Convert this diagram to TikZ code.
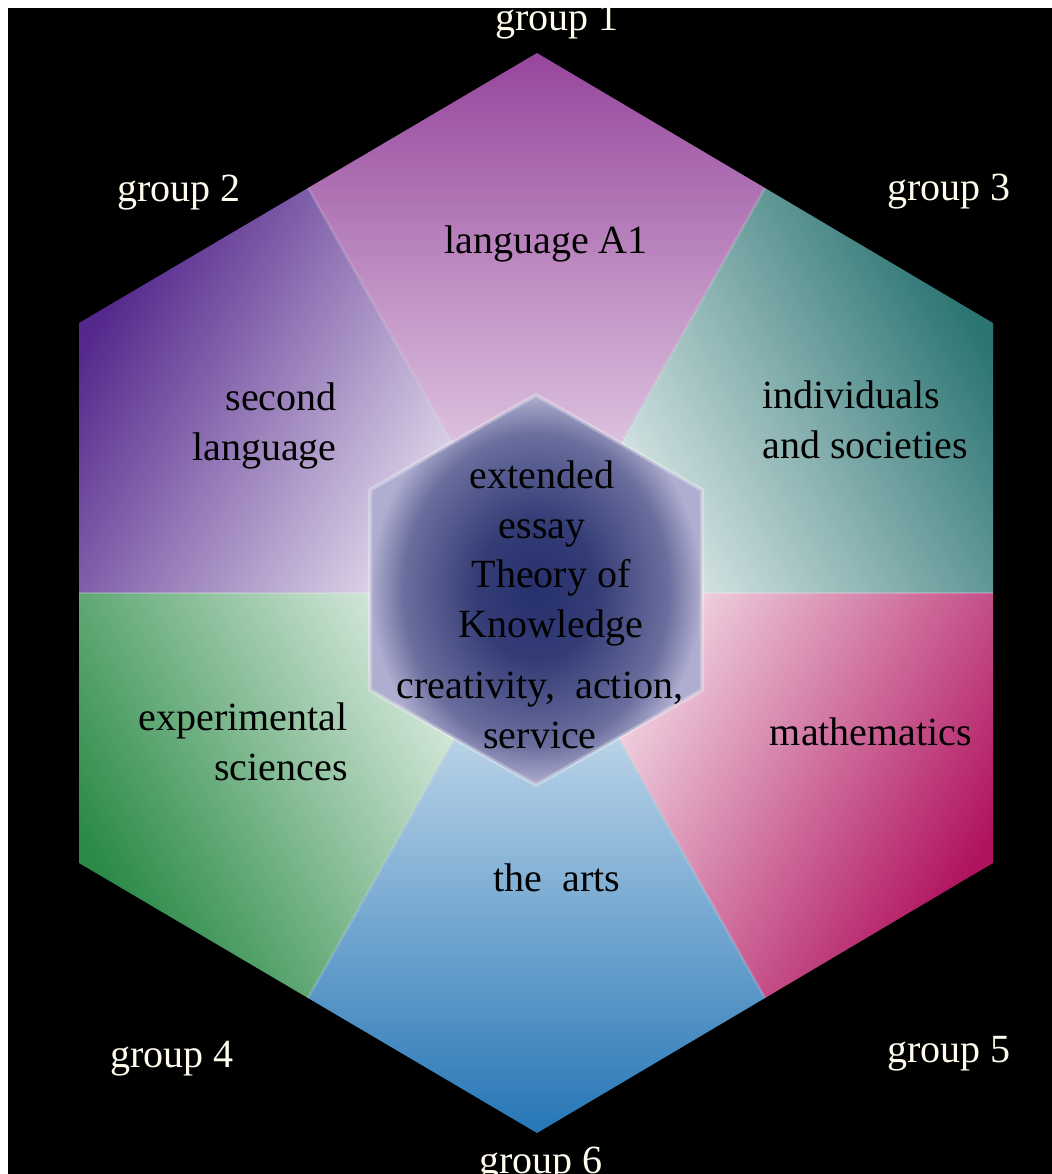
\documentclass[tikz,border=0pt]{standalone}
\usepackage{fontspec}
\setmainfont{Liberation Serif}
\usepackage{xcolor}
\usetikzlibrary{calc}
\definecolor{grpone}{RGB}{150,70,156}
\definecolor{grptwo}{RGB}{84,40,140}
\definecolor{grpthree}{RGB}{42,116,114}
\definecolor{grpfour}{RGB}{42,138,70}
\definecolor{grpfive}{RGB}{176,18,94}
\definecolor{grpsix}{RGB}{38,118,182}
\definecolor{corenavy}{RGB}{38,48,108}
\definecolor{corerim}{RGB}{176,174,208}
\definecolor{labelwhite}{RGB}{255,252,238}
\pgfdeclareradialshading{core}{\pgfpoint{0bp}{0bp}}{%
    color(0bp)=(corenavy); color(9bp)=(corenavy!90!corerim);
    color(20bp)=(corenavy!50!corerim); color(25bp)=(corerim); color(50bp)=(corerim)}

\begin{document}
\begin{tikzpicture}[x=0.5pt, y=-0.5pt,
    grouplabel/.style={text=labelwhite, font=\fontsize{20}{25}\selectfont, anchor=base, inner sep=0pt},
    subject/.style={text=black, font=\fontsize{20}{25}\selectfont, anchor=base, inner sep=0pt},
    sector/.style={top color=#1, middle color=#1!45!white, bottom color=white!92!#1}]
    \useasboundingbox (0,0) rectangle (1052,1174);
    % background with the thin white margin
    \fill[white] (0,0) rectangle (1052,1174);
    \fill[black] (8,8) rectangle (1052,1174);
    % outer hexagon: corners, edge midpoints, centre
    \coordinate (c) at (537,593);
    \coordinate (v1) at (537,53);
    \coordinate (v2) at (79,323);
    \coordinate (v3) at (993,323);
    \coordinate (v4) at (79,863);
    \coordinate (v5) at (993,863);
    \coordinate (v6) at (537,1133);
    \coordinate (m12) at ($(v1)!0.5!(v2)$);
    \coordinate (m13) at ($(v1)!0.5!(v3)$);
    \coordinate (m24) at ($(v2)!0.5!(v4)$);
    \coordinate (m35) at ($(v3)!0.5!(v5)$);
    \coordinate (m46) at ($(v4)!0.5!(v6)$);
    \coordinate (m56) at ($(v5)!0.5!(v6)$);
    % six sectors, dark at the corner and pale towards the centre
    \shade[sector=grpone, shading angle=0] (v1) -- (m13) -- (c) -- (m12) -- cycle;
    \shade[sector=grptwo, shading angle=60] (v2) -- (m12) -- (c) -- (m24) -- cycle;
    \shade[sector=grpthree, shading angle=-60] (v3) -- (m35) -- (c) -- (m13) -- cycle;
    \shade[sector=grpfour, shading angle=120] (v4) -- (m24) -- (c) -- (m46) -- cycle;
    \shade[sector=grpfive, shading angle=-120] (v5) -- (m56) -- (c) -- (m35) -- cycle;
    \shade[sector=grpsix, shading angle=180] (v6) -- (m46) -- (c) -- (m56) -- cycle;
    \foreach \m in {m12,m13,m24,m35,m46,m56}
        \draw[white, opacity=0.2, line width=1.2pt] (c) -- (\m);
    % inner hexagon
    \coordinate (k1) at (536,395);
    \coordinate (k2) at (702,490);
    \coordinate (k3) at (702,690);
    \coordinate (k4) at (536,785);
    \coordinate (k5) at (370,690);
    \coordinate (k6) at (370,490);
    \shade[shading=core] (k1) -- (k2) -- (k3) -- (k4) -- (k5) -- (k6) -- cycle;
    \draw[white, opacity=0.3, line width=2pt, line join=round] (k1) -- (k2) -- (k3) -- (k4) -- (k5) -- (k6) -- cycle;
    % group labels round the outside
    \node[grouplabel] (g1) at (557,30) {group 1};
    \node[grouplabel] (g2) at (179,201) {group 2};
    \node[grouplabel] (g3) at (949,200) {group 3};
    \node[grouplabel] (g4) at (172,1067) {group 4};
    \node[grouplabel] (g5) at (949,1062) {group 5};
    \node[grouplabel] (g6) at (541,1173) {group 6};
    % subject names in the sectors
    \node[subject] (lang) at (546,253) {language A1};
    \node[subject, align=right, anchor=base east] (second) at (337,460) {second\\language};
    \node[subject, align=left, anchor=base west] (indiv) at (762,458) {individuals\\and societies};
    \node[subject, align=right, anchor=base east] (exper) at (348,780) {experimental\\sciences};
    \node[subject] (maths) at (871,745) {mathematics};
    \node[subject] (arts) at (557,891) {the\ \ arts};
    % core in the middle
    \node[subject, align=center] (essay) at (542,538) {extended\\essay};
    \node[subject, align=center] (tok) at (551,637) {Theory of\\Knowledge};
    \node[subject, align=center] (cas) at (540,748) {creativity,\ \ action,\\service};
\end{tikzpicture}
\end{document}
